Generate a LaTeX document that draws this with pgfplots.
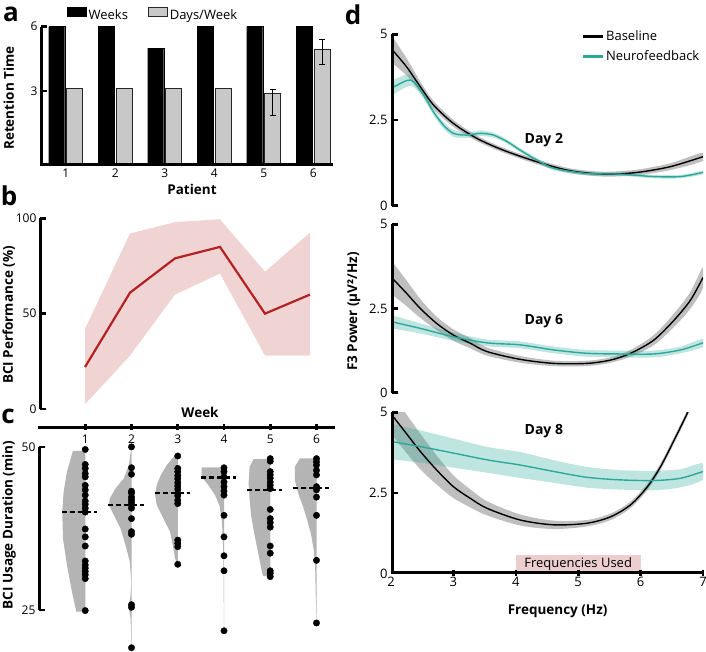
\documentclass[border=0pt]{standalone}
\usepackage{pgfplots}
\pgfplotsset{compat=1.18}
\usepackage{fontspec}
\setmainfont{Open Sans}

\definecolor{nfteal}{RGB}{43,168,154}
\definecolor{perfred}{RGB}{178,34,34}
\definecolor{perfband}{RGB}{240,211,211}
\definecolor{daysgray}{RGB}{200,200,200}
\definecolor{violingray}{RGB}{180,180,180}
\definecolor{freqpink}{RGB}{236,206,206}

\pgfplotsset{
  panel/.style={
    scale only axis,
    /pgf/number format/assume math mode=true,
    tick label style={font=\fontsize{12}{13}\selectfont},
    label style={font=\bfseries\fontsize{13.5}{15}\selectfont},
    x axis line style={draw=none},
    y axis line style={draw=none},
    major tick length=0pt,
  },
  axline/.style={sharp plot, black, line width=3pt, forget plot},
  ynub/.style={only marks, mark=-, mark size=3pt, black, mark options={line width=2.6pt}, forget plot},
  xnub/.style={only marks, mark=|, mark size=3pt, black, mark options={line width=2.6pt}, forget plot},
  median/.style={black, line width=2.2pt, dash pattern=on 5pt off 3pt, forget plot},
  dots/.style={only marks, mark=*, mark size=3.2pt, black, forget plot},
  violin/.style={fill=violingray, draw=none, forget plot},
  gband/.style={fill=black, fill opacity=0.25, draw=none, smooth, forget plot},
  tband/.style={fill=nfteal, fill opacity=0.3, draw=none, smooth, forget plot},
}
\newcommand{\plabel}{\bfseries\fontsize{26}{28}\selectfont}

\begin{document}
\begin{tikzpicture}
\useasboundingbox (0,0) rectangle (706pt,651pt);

% ---- a: retention
\begin{axis}[panel, at={(41pt,486pt)}, anchor=south west, width=292pt, height=138.3pt,
  xmin=0.5, xmax=6.4, ymin=0, ymax=6.45, clip=false,
  y filter/.expression={y+0.45},
  axis x line*=bottom, axis y line*=left,
  xtick={1,...,6}, ytick={3.45,6.45}, yticklabels={3,6},
  xlabel={Patient}, ylabel={Retention Time},
  xlabel style={at={(axis description cs:0.517,-0.174)}, anchor=center},
  ylabel style={at={(axis description cs:-0.11,0.484)}, anchor=center},
  ybar=2pt, bar width=16pt,
  legend columns=2,
  legend style={draw=none, fill=none, at={(0.089,1.143)}, anchor=north west, inner sep=0pt,
    font=\fontsize{13}{14}\selectfont,
    /tikz/every even column/.append style={column sep=18pt}},
  legend image code/.code={\draw[#1] (0pt,-1pt) rectangle (19pt,8pt);},
]
\addplot[fill=black, draw=black, bar shift=-9pt] coordinates {(1,6) (2,6) (3,5) (4,6) (5,6) (6,6)};
\addlegendentry{Weeks}
\addplot[fill=daysgray, draw=black!85, line width=0.8pt, bar shift=9pt] coordinates {(1,3.1) (2,3.1) (3,3.1) (4,3.1) (5,2.9) (6,4.96)};
\addlegendentry{Days/Week}
\addplot[draw=none, fill=none, bar shift=9pt, forget plot,
  error bars/.cd, y dir=both, y explicit,
  error bar style={line width=1pt, black},
  error mark options={rotate=90, line width=1pt, mark size=3pt, black}]
  coordinates {(5,2.9) += (0,0.18) -= (0,1.02) (6,4.96) += (0,0.46) -= (0,0.72)};
\addplot[axline] coordinates {(0.5,6) (0.5,-0.45) (6.4,-0.45)};
\addplot[ynub] coordinates {(0.56,3) (0.56,6)};
\end{axis}

% ---- b: performance
\begin{axis}[panel, at={(40pt,242pt)}, anchor=south west, width=288pt, height=190.7pt,
  xmin=0, xmax=6.4, ymin=0, ymax=100, clip=false,
  axis x line=none, axis y line*=left, ytick={0,50,100},
  ylabel={BCI Performance (\%)},
  ylabel style={at={(axis description cs:-0.108,0.493)}, anchor=center},
]
\addplot[fill=perfband, draw=none] coordinates {(1,42) (2,92) (3,98) (4,99.5) (5,72) (6,92.5) (6,28) (5,28) (4,71) (3,60) (2,28) (1,2.5)};
\addplot[perfred, line width=2.2pt] coordinates {(1,22) (2,61) (3,79) (4,85) (5,50) (6,60)};
\addplot[axline] coordinates {(0,0) (0,100)};
\addplot[ynub] coordinates {(0.066,0) (0.066,50) (0.066,100)};
\end{axis}

% ---- c: usage duration
\begin{axis}[panel, at={(39pt,0pt)}, anchor=south west, width=296pt, height=223.7pt,
  xmin=0, xmax=6.4, ymin=18.7, ymax=53, clip=false,
  axis x line*=top, axis y line*=left,
  xtick={1,...,6}, ytick={25,50},
  xticklabel style={anchor=north, yshift=-4pt},
  xlabel={Week}, ylabel={BCI Usage Duration (min)},
  xlabel style={at={(axis description cs:0.544,1.068)}, anchor=center},
  ylabel style={at={(axis description cs:-0.101,0.563)}, anchor=center},
]
\addplot[violin] coordinates {(1,49.39) (0.734,49.39) (0.604,46.17) (0.532,43.11) (0.503,40.05) (0.518,35.97) (0.604,31.88) (0.712,27.80) (0.806,24.73) (1,24.73)};
\addplot[violin] coordinates {(2,50.0) (1.942,47.2) (1.834,45.16) (1.654,43.63) (1.532,42.10) (1.51,41.07) (1.618,39.54) (1.762,37.5) (1.87,34.95) (1.964,32.39) (1.995,29.33) (1.98,27.29) (1.935,25.5) (1.98,23.72) (1.993,20.66) (2,19.2)};
\addplot[violin] coordinates {(3,48.9) (2.942,48.73) (2.762,47.2) (2.633,45.67) (2.546,44.14) (2.51,42.6) (2.546,41.07) (2.69,39.03) (2.834,36.99) (2.892,34.95) (2.942,32.9) (3,32.03)};
\addplot[violin] coordinates {(4,46.85) (3.518,46.85) (3.518,45.41) (3.662,44.14) (3.806,42.6) (3.899,41.07) (3.957,38.52) (3.986,33.42) (3.995,25.76) (4,21.8)};
\addplot[violin] coordinates {(5,48.12) (4.64,48.12) (4.554,46.94) (4.532,44.39) (4.554,41.84) (4.59,39.28) (4.654,36.74) (4.726,34.18) (4.798,31.62) (4.842,30.2) (5,30.2)};
\addplot[violin] coordinates {(6,48.22) (5.64,48.22) (5.532,46.94) (5.532,44.9) (5.604,42.86) (5.712,40.81) (5.798,38.77) (5.878,36.74) (5.942,34.18) (5.971,31.62) (5.986,26.52) (6,23.05)};
\addplot[dots] coordinates {(1,49.6) (1,47.3) (1,46.7) (1,45.9) (1,45.4) (1,44.1) (1,43.4) (1,42.6) (1,41.7) (1,41.2) (1,40.6) (1,40.0) (1,37.4) (1,36.2) (1,34.8) (1,32.5) (1,31.9) (1,31.4) (1,30.9) (1,30.4) (1,29.8) (1,24.9)};
\addplot[dots] coordinates {(2,50.0) (2,46.8) (2,45.8) (2,43.2) (2,42.9) (2,42.3) (2,41.9) (2,41.5) (2,41.1) (2,40.6) (2,39.0) (2,37.0) (2,36.6) (2,25.8) (2,25.4) (2,19.2)};
\addplot[dots] coordinates {(3,48.6) (3,46.7) (3,46.2) (3,45.6) (3,45.1) (3,44.5) (3,44.0) (3,43.5) (3,42.9) (3,42.5) (3,41.8) (3,41.3) (3,35.7) (3,35.2) (3,34.7) (3,32.0)};
\addplot[dots] coordinates {(4,46.8) (4,46.2) (4,45.4) (4,44.6) (4,43.9) (4,43.2) (4,42.6) (4,39.5) (4,36.2) (4,33.3) (4,31.0) (4,21.8)};
\addplot[dots] coordinates {(5,48.2) (5,47.8) (5,46.2) (5,45.7) (5,45.2) (5,44.6) (5,44.1) (5,43.6) (5,40.4) (5,39.0) (5,38.4) (5,37.7) (5,34.8) (5,33.7) (5,31.0) (5,30.6) (5,30.1)};
\addplot[dots] coordinates {(6,48.2) (6,47.7) (6,47.2) (6,46.4) (6,45.7) (6,43.9) (6,43.4) (6,42.3) (6,39.5) (6,32.6) (6,23.0)};
\addplot[median] coordinates {(0.5,40.0) (1.26,40.0)};
\addplot[median] coordinates {(1.5,41.1) (2.26,41.1)};
\addplot[median] coordinates {(2.5,42.9) (3.26,42.9)};
\addplot[median] coordinates {(3.5,45.3) (4.26,45.3)};
\addplot[median] coordinates {(4.5,43.4) (5.26,43.4)};
\addplot[median] coordinates {(5.5,43.7) (6.26,43.7)};
\addplot[axline] coordinates {(0,25) (0,50)};
\addplot[axline] coordinates {(-0.03,53) (6.4,53)};
\addplot[ynub] coordinates {(0.064,25) (0.064,50)};
\addplot[xnub] coordinates {(1,53) (2,53) (3,53) (4,53) (5,53) (6,53)};
\end{axis}

% ---- d: Day 2
\begin{axis}[panel, at={(391pt,445.3pt)}, anchor=south west, width=312pt, height=171.4pt,
  xmin=2, xmax=7, ymin=0, ymax=5,
  axis x line=none, axis y line*=left, xtick=\empty, ytick={0,2.5,5},
  tick label style={font=\fontsize{13}{14}\selectfont},
  legend style={draw=none, fill=none, at={(0.61,1.034)}, anchor=north west, inner sep=0pt,
    font=\fontsize{13}{15}\selectfont, cells={anchor=west}, row sep=5pt},
  legend image code/.code={\draw[#1, line width=2.6pt] (0pt,0pt) -- (20pt,0pt);},
]
\addplot[gband] coordinates {(2,4.99) (2.25,4.30) (2.47,3.62) (2.68,3.06) (3,2.50) (3.38,2.04) (3.8,1.69) (4.34,1.35) (4.87,1.09) (5.41,0.99) (5.94,1.05) (6.48,1.24) (7,1.55)
  (7,1.31) (6.48,1.04) (5.94,0.89) (5.41,0.85) (4.87,0.95) (4.34,1.21) (3.8,1.55) (3.38,1.88) (3,2.30) (2.68,2.82) (2.47,3.32) (2.25,3.80) (2,4.19)};
\addplot[tband] coordinates {(2,3.64) (2.25,3.83) (2.36,3.77) (2.52,3.33) (2.68,2.84) (2.84,2.45) (3,2.21) (3.21,2.14) (3.43,2.19) (3.64,2.13) (3.86,1.93) (4.07,1.68) (4.34,1.39) (4.61,1.15) (5.14,0.99) (5.68,0.97) (6.21,0.90) (6.64,0.90) (7,1.02)
  (7,0.92) (6.64,0.80) (6.21,0.80) (5.68,0.87) (5.14,0.89) (4.61,1.03) (4.34,1.27) (4.07,1.56) (3.86,1.81) (3.64,1.99) (3.43,2.03) (3.21,1.98) (3,2.01) (2.84,2.25) (2.68,2.64) (2.52,3.13) (2.36,3.47) (2.25,3.47) (2,3.20)};
\addplot[black, line width=1.4pt, smooth] coordinates {(2,4.59) (2.25,4.05) (2.47,3.47) (2.68,2.94) (3,2.40) (3.38,1.96) (3.8,1.62) (4.34,1.28) (4.87,1.02) (5.41,0.92) (5.94,0.97) (6.48,1.14) (7,1.43)};
\addlegendentry{Baseline}
\addplot[nfteal, line width=1.4pt, smooth] coordinates {(2,3.42) (2.25,3.65) (2.36,3.62) (2.52,3.23) (2.68,2.74) (2.84,2.35) (3,2.11) (3.21,2.06) (3.43,2.11) (3.64,2.06) (3.86,1.87) (4.07,1.62) (4.34,1.33) (4.61,1.09) (5.14,0.94) (5.68,0.92) (6.21,0.85) (6.64,0.85) (7,0.97)};
\addlegendentry{Neurofeedback}
\addplot[axline] coordinates {(2.024,0) (2.024,5)};
\addplot[ynub] coordinates {(2.07,0) (2.07,2.5) (2.07,5)};
\node[font=\bfseries\fontsize{14}{15}\selectfont] at (axis cs:4.45,1.92) {Day 2};
\end{axis}

% ---- d: Day 6
\begin{axis}[panel, at={(391pt,258.3pt)}, anchor=south west, width=312pt, height=168.4pt,
  xmin=2, xmax=7, ymin=0, ymax=5,
  axis x line=none, axis y line*=left, xtick=\empty, ytick={0,2.5,5},
  tick label style={font=\fontsize{13}{14}\selectfont},
  ylabel={F3 Power (μV²/Hz)},
  ylabel style={at={(axis description cs:-0.119,0.482)}, anchor=center},
]
\addplot[gband] coordinates {(2,3.94) (2.25,3.33) (2.47,2.78) (2.73,2.26) (3,1.88) (3.27,1.62) (3.54,1.34) (4.07,1.09) (4.61,0.95) (5.14,0.95) (5.52,1.05) (5.84,1.27) (6.21,1.71) (6.54,2.36) (6.8,3.00) (7,3.72)
  (7,3.12) (6.8,2.50) (6.54,1.96) (6.21,1.41) (5.84,1.07) (5.52,0.89) (5.14,0.79) (4.61,0.79) (4.07,0.89) (3.54,1.10) (3.27,1.32) (3,1.54) (2.73,1.86) (2.47,2.22) (2.25,2.57) (2,2.94)};
\addplot[tband] coordinates {(2,2.31) (2.47,2.06) (3,1.78) (3.54,1.58) (4.07,1.52) (4.61,1.37) (5.14,1.27) (5.68,1.25) (6.21,1.25) (6.64,1.37) (7,1.60)
  (7,1.36) (6.64,1.17) (6.21,1.05) (5.68,1.05) (5.14,1.07) (4.61,1.17) (4.07,1.32) (3.54,1.38) (3,1.54) (2.47,1.76) (2,1.91)};
\addplot[black, line width=1.4pt, smooth] coordinates {(2,3.44) (2.25,2.95) (2.47,2.50) (2.73,2.06) (3,1.71) (3.27,1.47) (3.54,1.22) (4.07,0.99) (4.61,0.87) (5.14,0.87) (5.52,0.97) (5.84,1.17) (6.21,1.56) (6.54,2.16) (6.8,2.75) (7,3.42)};
\addplot[nfteal, line width=1.4pt, smooth] coordinates {(2,2.11) (2.47,1.91) (3,1.66) (3.54,1.48) (4.07,1.42) (4.61,1.27) (5.14,1.17) (5.68,1.15) (6.21,1.15) (6.64,1.27) (7,1.48)};
\addplot[axline] coordinates {(2.024,0) (2.024,5)};
\addplot[ynub] coordinates {(2.07,0) (2.07,2.5) (2.07,5)};
\node[font=\bfseries\fontsize{14}{15}\selectfont] at (axis cs:4.45,2.13) {Day 6};
\end{axis}

% ---- d: Day 8
\begin{axis}[panel, at={(391pt,77pt)}, anchor=south west, width=312pt, height=161.7pt,
  xmin=2, xmax=7, ymin=0, ymax=5,
  axis x line*=bottom, axis y line*=left, xtick={2,...,7}, ytick={0,2.5,5},
  tick label style={font=\fontsize{13}{14}\selectfont},
  xlabel={Frequency (Hz)},
  xlabel style={at={(axis description cs:0.534,-0.232)}, anchor=center},
]
\addplot[fill=freqpink, draw=none, forget plot] coordinates {(4,0) (4,0.6) (6,0.6) (6,0)};
\node[font=\fontsize{13}{14}\selectfont] at (axis cs:5,0.3) {Frequencies Used};
\addplot[gband] coordinates {(2,5.55) (2.2,5.06) (2.47,4.34) (2.73,3.67) (3,3.05) (3.27,2.62) (3.54,2.25) (4.07,1.84) (4.61,1.65) (5.14,1.67) (5.52,1.87) (5.84,2.24) (6.11,2.80) (6.32,3.42) (6.54,4.25) (6.75,5.08) (6.85,5.55)
  (6.85,5.35) (6.75,4.88) (6.54,4.05) (6.32,3.22) (6.11,2.60) (5.84,2.04) (5.52,1.67) (5.14,1.47) (4.61,1.39) (4.07,1.50) (3.54,1.81) (3.27,2.06) (3,2.35) (2.73,2.77) (2.47,3.24) (2.2,3.86) (2,4.35)};
\addplot[tband] coordinates {(2,4.65) (2.47,4.44) (3,4.19) (3.54,3.93) (4.07,3.77) (4.61,3.52) (5.14,3.31) (5.68,3.21) (6.21,3.19) (6.64,3.24) (7,3.42)
  (7,2.92) (6.64,2.68) (6.21,2.59) (5.68,2.61) (5.14,2.67) (4.61,2.82) (4.07,2.97) (3.54,3.13) (3,3.29) (2.47,3.44) (2,3.55)};
\addplot[black, line width=1.4pt, smooth] coordinates {(2,4.95) (2.2,4.46) (2.47,3.79) (2.73,3.22) (3,2.70) (3.27,2.34) (3.54,2.03) (4.07,1.67) (4.61,1.52) (5.14,1.57) (5.52,1.77) (5.84,2.14) (6.11,2.70) (6.32,3.32) (6.54,4.15) (6.75,4.98) (6.85,5.45)};
\addplot[nfteal, line width=1.4pt, smooth] coordinates {(2,4.10) (2.47,3.94) (3,3.74) (3.54,3.53) (4.07,3.37) (4.61,3.17) (5.14,2.99) (5.68,2.91) (6.21,2.89) (6.64,2.96) (7,3.17)};
\addplot[axline] coordinates {(2.024,5) (2.024,0.046) (7,0.046)};
\addplot[ynub] coordinates {(2.07,2.5) (2.07,5)};
\addplot[xnub] coordinates {(3,0.046) (4,0.046) (5,0.046) (6,0.046) (7,0.046)};
\node[font=\bfseries\fontsize{14}{15}\selectfont] at (axis cs:4.45,4.43) {Day 8};
\end{axis}

\node[font=\plabel, inner sep=0pt] at (11pt,637pt) {a};
\node[font=\plabel, inner sep=0pt] at (9pt,455pt) {b};
\node[font=\plabel, inner sep=0pt] at (8pt,235pt) {c};
\node[font=\plabel, inner sep=0pt] at (353pt,636pt) {d};
\end{tikzpicture}
\end{document}
